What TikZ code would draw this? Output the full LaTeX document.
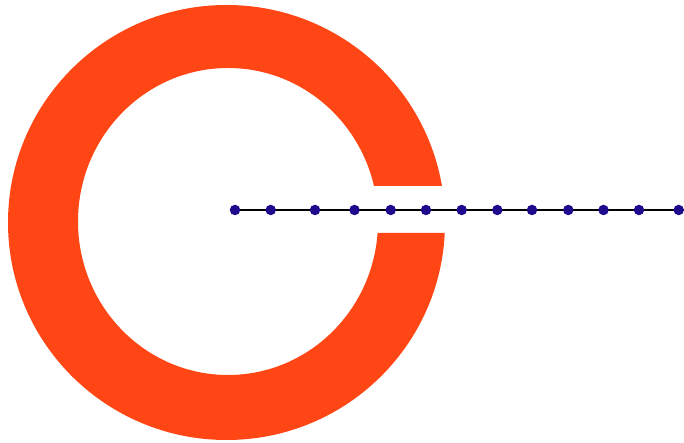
\documentclass[tikz,border=0pt]{standalone}
\usetikzlibrary{backgrounds}
\definecolor{ringred}{RGB}{255,70,20}
\definecolor{dotblue}{RGB}{30,10,140}
\tikzset{
  bead/.style={circle,fill=dotblue,inner sep=0pt,minimum size=10.5pt},
  wire/.style={draw=black,line width=1.4pt}
}
\begin{document}
\begin{tikzpicture}[x=1pt,y=1pt]
\useasboundingbox (0,0) rectangle (684,443);
% ring with a slot on the right
\begin{scope}
  \clip (0,0) -- (684,0) -- (684,210) -- (300,210) -- (300,257) -- (684,257) -- (684,443) -- (0,443) -- cycle;
  \fill[ringred,even odd rule] (226.5,220.5) ellipse [x radius=218.5,y radius=217.5]
        (228,221.5) ellipse [x radius=150,y radius=153.5];
\end{scope}
% beads
\foreach \i/\x in {1/235,2/270.7,3/315,4/354.5,5/390.7,6/426,7/461.7,8/497.3,9/532,10/568.3,11/603.5,12/639,13/678.7}{
  \node[bead] (d\i) at (\x,233) {};
}
\coordinate (end) at (684,233);
\begin{scope}[on background layer]
  \draw[wire] (d1.center) -- (d13.center) -- (end);
\end{scope}
\end{tikzpicture}
\end{document}
